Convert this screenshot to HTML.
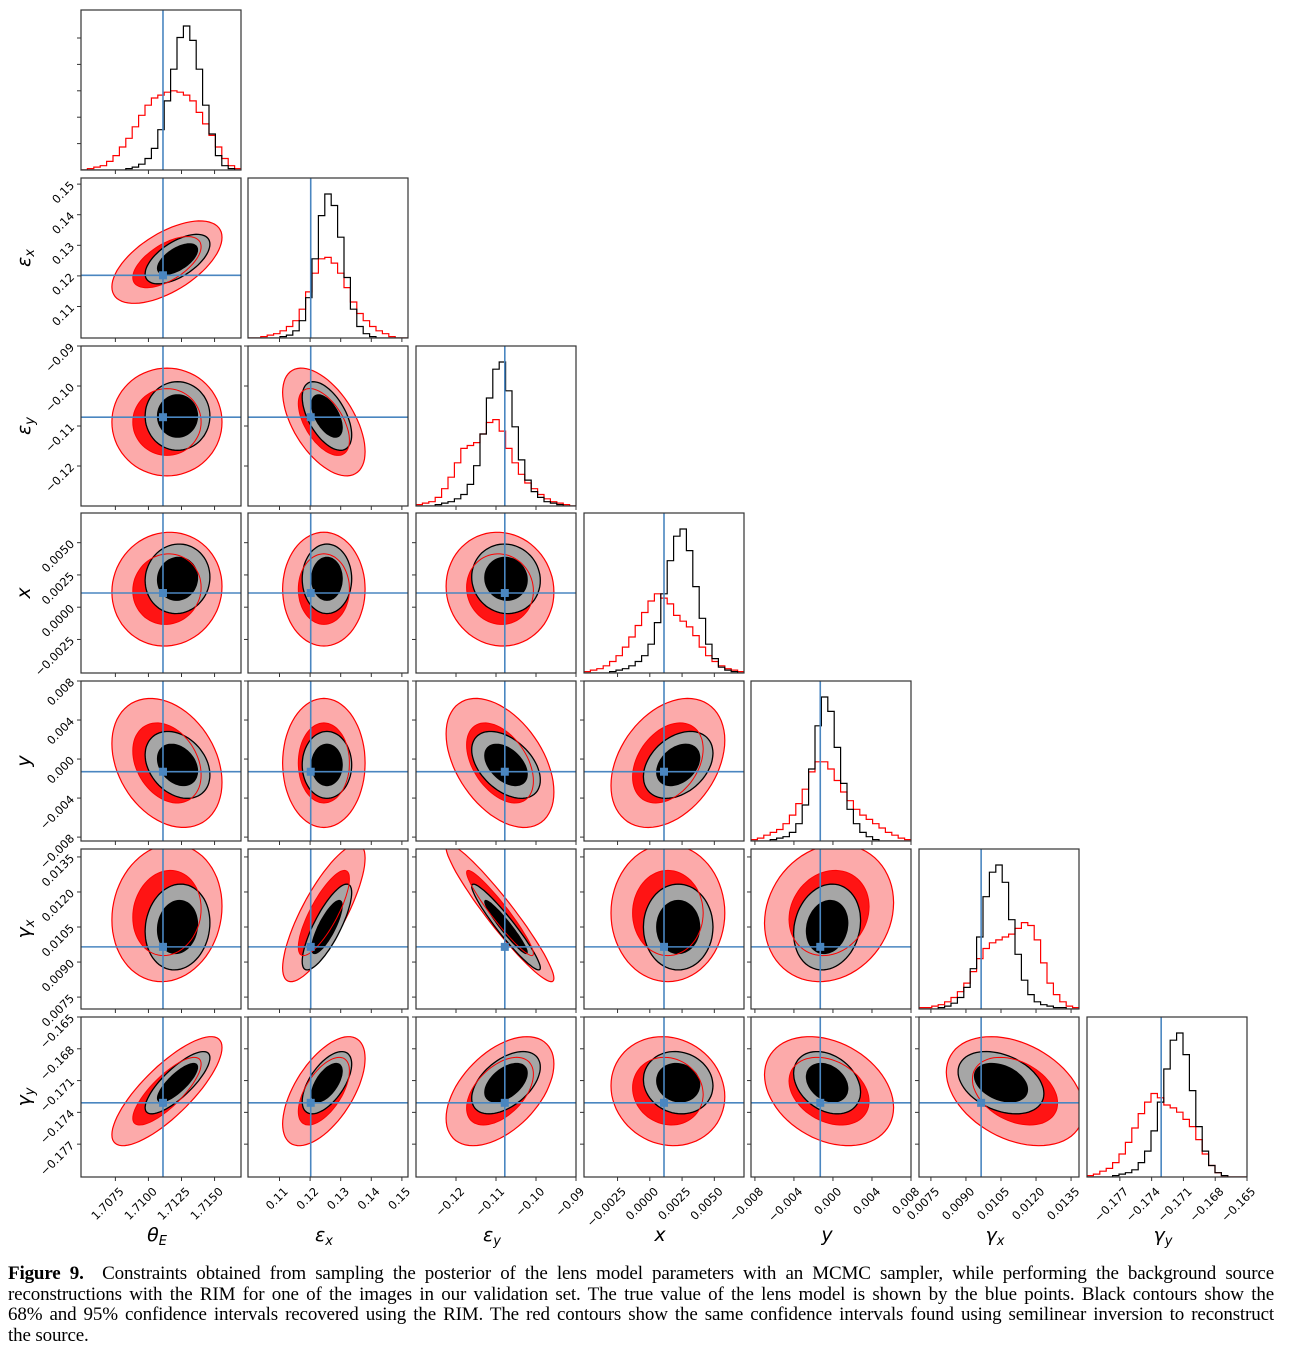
<!DOCTYPE html>
<html><head><meta charset="utf-8">
<style>
body{margin:0;background:#fff;width:1294px;height:1350px;overflow:hidden;position:relative;}
svg{position:absolute;left:0;top:0;}
.cap{position:absolute;left:8px;width:1266px;font-family:"Liberation Serif",serif;font-size:19px;line-height:20.5px;color:#000;top:1264px;letter-spacing:-0.15px;}
.cap div{text-align:justify;text-align-last:justify;white-space:nowrap;}
.cap div.last{text-align-last:left;}
</style></head>
<body>
<svg id="fig" width="1294" height="1260"></svg>
<div class="cap">
<div style="white-space:normal"><b>Figure 9.</b>&nbsp; Constraints obtained from sampling the posterior of the lens model parameters with an MCMC sampler, while performing the background source</div>
<div style="white-space:normal">reconstructions with the RIM for one of the images in our validation set. The true value of the lens model is shown by the blue points. Black contours show the</div>
<div style="white-space:normal">68% and 95% confidence intervals recovered using the RIM. The red contours show the same confidence intervals found using semilinear inversion to reconstruct</div>
<div class="last">the source.</div>
</div>
<script>
const paramLabels = ["θ|E","ε|x","ε|y","x|","y|","γ|x","γ|y"];
const rangeLo = [1.7049, 0.0997, -0.130, -0.0051, -0.0084, 0.00699, -0.1801];
const rangeHi = [1.7170, 0.152, -0.090, 0.0073, 0.0080, 0.01384, -0.165];
const truths = [1.7111, 0.1202, -0.1078, 0.0011, -0.0013, 0.00965, -0.1731];
const blackMean = [1.7122, 0.1255, -0.1075, 0.0022, -0.0006, 0.0105, -0.1712];
const blackSd = [0.0010, 0.0033, 0.0035, 0.0011, 0.0014, 0.00075, 0.0012];
const redMean = [1.7114, 0.1245, -0.1090, 0.0014, -0.0004, 0.0111, -0.1720];
const redSd = [0.0017, 0.0055, 0.0055, 0.0018, 0.0027, 0.0012, 0.0021];
const corr = [
 [],
 [0.6],
 [0.0,-0.55],
 [0.05,0.0,-0.05],
 [-0.3,0.0,-0.45,0.35],
 [0.1,0.8,-0.95,0.0,0.15],
 [0.8,0.6,0.5,-0.1,-0.3,-0.35]
];
const tickVals = [
 [1.7075,1.7100,1.7125,1.7150],
 [0.11,0.12,0.13,0.14,0.15],
 [-0.12,-0.11,-0.10,-0.09],
 [-0.0025,0.0,0.0025,0.0050],
 [-0.008,-0.004,0.0,0.004,0.008],
 [0.0075,0.0090,0.0105,0.0120,0.0135],
 [-0.177,-0.174,-0.171,-0.168,-0.165]
];
const tickText = [
 ["1.7075","1.7100","1.7125","1.7150"],
 ["0.11","0.12","0.13","0.14","0.15"],
 ["−0.12","−0.11","−0.10","−0.09"],
 ["−0.0025","0.0000","0.0025","0.0050"],
 ["−0.008","−0.004","0.000","0.004","0.008"],
 ["0.0075","0.0090","0.0105","0.0120","0.0135"],
 ["−0.177","−0.174","−0.171","−0.168","−0.165"]
];
const histBlack = [
 [0,0,0,0,0,0,0,1,2,4,8,15,28,48,70,92,100,90,70,45,25,10,3,1,0],
 [0,0,0,0,0,1,2,5,12,28,55,85,100,92,70,42,20,8,3,1,0,0,0,0,0],
 [0,0,0,1,2,3,5,8,15,28,50,75,95,100,80,55,32,18,10,6,3,2,1,0,0],
 [0,0,0,0,1,2,3,5,8,12,20,35,55,78,95,100,85,60,38,20,10,4,2,1,0],
 [0,0,0,1,2,3,6,12,25,50,80,100,90,65,40,22,12,6,3,1,0,0,0,0,0],
 [0,0,0,1,2,4,8,15,28,50,78,95,100,88,62,38,20,10,5,3,2,1,1,0,0],
 [0,0,0,0,1,2,3,5,10,18,32,52,75,95,100,85,60,35,18,8,3,1,0,0,0]
];
const histRed = [
 [0,1,2,3,6,10,16,22,30,38,45,50,52,54,55,54,52,48,40,32,24,16,8,3,1],
 [0,0,1,2,3,5,8,12,20,32,45,55,56,52,45,35,25,17,12,8,5,3,1,0,0],
 [1,2,3,6,12,20,30,40,42,44,50,58,60,52,40,30,22,16,12,8,5,3,2,1,0],
 [1,2,3,5,8,12,18,25,33,42,50,55,52,48,40,36,32,26,18,12,8,5,3,2,1],
 [1,2,4,6,8,12,18,26,36,48,55,55,50,42,34,28,22,18,15,12,9,6,4,2,1],
 [1,1,2,3,5,8,12,18,26,35,42,46,48,50,52,56,60,58,48,32,18,10,5,2,1],
 [1,2,4,6,10,16,24,34,44,52,58,55,50,48,45,40,35,26,16,8,3,1,0,0,0]
];

const NS="http://www.w3.org/2000/svg";
const svg=document.getElementById('fig');
const colL=[81,248,416,584,751,919,1087], rowT=[10,178,346,513,681,849,1017], S=160;
const BLUE="#4a86c0";
function el(tag,attrs,parent){const e=document.createElementNS(NS,tag);for(const k in attrs)e.setAttribute(k,attrs[k]);(parent||svg).appendChild(e);return e;}
function sx(p,v,c){return colL[c]+(v-rangeLo[p])/(rangeHi[p]-rangeLo[p])*S;}
function sy(p,v,r){return rowT[r]+S-(v-rangeLo[p])/(rangeHi[p]-rangeLo[p])*S;}
function ellipsePath(i,j,mean,sd,k){
 const rho=corr[i][j];let d="";
 for(let t=0;t<=72;t++){const a=t/72*2*Math.PI;
  const vx=mean[j]+k*sd[j]*Math.cos(a);
  const vy=mean[i]+k*sd[i]*(rho*Math.cos(a)+Math.sqrt(1-rho*rho)*Math.sin(a));
  d+=(t?"L":"M")+sx(j,vx,j).toFixed(1)+","+sy(i,vy,i).toFixed(1);}
 return d+"Z";}
const defs=el('defs',{});
for(let i=0;i<7;i++){for(let j=0;j<=i;j++){
 const cp=el('clipPath',{id:'c'+i+'_'+j},defs);
 el('rect',{x:colL[j],y:rowT[i],width:S,height:S},cp);
 const g=el('g',{'clip-path':'url(#c'+i+'_'+j+')'});
 
 
 if(i===j){
  const hb=histBlack[i],hr=histRed[i];const mx=Math.max(...hb,...hr);const n=hb.length;
  [[hr,'#ff0000','red-histogram'],[hb,'#000','black-histogram']].forEach(([h,col,nm])=>{
   let d="M"+colL[j]+","+(rowT[i]+S);
   for(let b=0;b<n;b++){const x0=colL[j]+b*S/n,x1=colL[j]+(b+1)*S/n,y=rowT[i]+S-h[b]/mx*S*0.9;d+="L"+x0.toFixed(1)+","+y.toFixed(1)+"L"+x1.toFixed(1)+","+y.toFixed(1);}
   d+="L"+(colL[j]+S)+","+(rowT[i]+S);
   const p=el('path',{d:d,fill:'none',stroke:col,'stroke-width':1.2},g);
   
   
  });
  el('line',{x1:sx(j,truths[j],j),x2:sx(j,truths[j],j),y1:rowT[i],y2:rowT[i]+S,stroke:BLUE,'stroke-width':1.6},g);
 } else {
  const a=el('path',{d:ellipsePath(i,j,redMean,redSd,2.45),fill:'#fcaaaa',stroke:'#ff0000','stroke-width':1.2},g);
  
  const b=el('path',{d:ellipsePath(i,j,redMean,redSd,1.52),fill:'#ff1414',stroke:'none'},g);
  
  const c=el('path',{d:ellipsePath(i,j,blackMean,blackSd,2.45),fill:'#a6a6a6',stroke:'#000','stroke-width':1.3},g);
  
  const e=el('path',{d:ellipsePath(i,j,blackMean,blackSd,1.52),fill:'#000',stroke:'#000','stroke-width':1},g);
  
  el('path',{d:ellipsePath(i,j,redMean,redSd,1.52),fill:'none',stroke:'#ff0000','stroke-width':1},g);
  const tx=sx(j,truths[j],j),ty=sy(i,truths[i],i);
  el('line',{x1:tx,x2:tx,y1:rowT[i],y2:rowT[i]+S,stroke:BLUE,'stroke-width':1.6},g);
  el('line',{x1:colL[j],x2:colL[j]+S,y1:ty,y2:ty,stroke:BLUE,'stroke-width':1.6},g);
  const m=el('rect',{x:tx-4,y:ty-4,width:8,height:8,fill:BLUE},g);
  
 }
 const fr=el('rect',{x:colL[j],y:rowT[i],width:S,height:S,fill:'none',stroke:'#333','stroke-width':1.2});
 
 tickVals[j].forEach(v=>{const x=sx(j,v,j);if(x>=colL[j]-1&&x<=colL[j]+S+1)el('line',{x1:x,x2:x,y1:rowT[i]+S,y2:rowT[i]+S+4,stroke:'#333','stroke-width':1});});
 const yp=(i===j)?null:i;
 if(yp!==null)tickVals[i].forEach(v=>{const y=sy(i,v,i);if(y>=rowT[i]-1&&y<=rowT[i]+S+1)el('line',{x1:colL[j]-4,x2:colL[j],y1:y,y2:y,stroke:'#333','stroke-width':1});});
 if(i===0&&j===0){for(let q=1;q<6;q++){const y=rowT[0]+S-q*S/6*0.9*1.1;el('line',{x1:colL[0]-4,x2:colL[0],y1:y,y2:y,stroke:'#333'});}}
}}
for(let j=0;j<7;j++){
 tickVals[j].forEach((v,k)=>{const x=sx(j,v,j);
  const t=el('text',{x:x+3,y:rowT[6]+S+9,'font-family':'DejaVu Sans, sans-serif','font-size':11.5,'text-anchor':'end',transform:`rotate(-45 ${x+3} ${rowT[6]+S+9})`,'dominant-baseline':'hanging'});
  t.textContent=tickText[j][k];
  });
 const [b,s]=paramLabels[j].split('|');
 const t=el('text',{x:colL[j]+S/2-4,y:1241,'font-family':'DejaVu Sans, sans-serif','font-size':19,'font-style':'italic','text-anchor':'middle'});
 
 const ts=el('tspan',{},t);ts.textContent=b;
 if(s){const s2=el('tspan',{'font-size':13,dy:4},t);s2.textContent=s;}
}
for(let i=1;i<7;i++){
 tickVals[i].forEach((v,k)=>{const y=sy(i,v,i);
  const t=el('text',{x:colL[0]-6,y:y+2,'font-family':'DejaVu Sans, sans-serif','font-size':11.5,'text-anchor':'end',transform:`rotate(-45 ${colL[0]-6} ${y+2})`});
  t.textContent=tickText[i][k];
  });
 const [b,s]=paramLabels[i].split('|');const cy=rowT[i]+S/2;
 const t=el('text',{x:30,y:cy,'font-family':'DejaVu Sans, sans-serif','font-size':19,'font-style':'italic','text-anchor':'middle',transform:`rotate(-90 30 ${cy})`});
 
 const ts=el('tspan',{},t);ts.textContent=b;
 if(s){const s2=el('tspan',{'font-size':13,dy:4},t);s2.textContent=s;}
}
</script>
</body></html>
